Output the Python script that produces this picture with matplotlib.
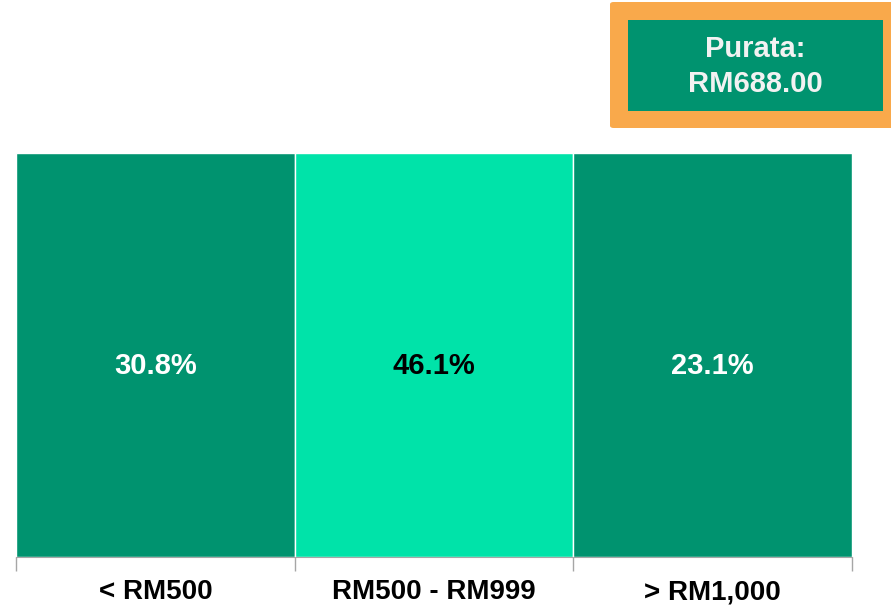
import matplotlib
matplotlib.use('Agg')
import matplotlib.pyplot as plt
from matplotlib.patches import FancyBboxPatch, Rectangle

categories = ['< RM500', 'RM500 - RM999', '> RM1,000']
shares = [30.8, 46.1, 23.1]
bar_height = [100, 100, 100]
colors = ['#00936F', '#00E3A9', '#00936F']
label_colors = ['white', 'black', 'white']
average_text = 'Purata:\nRM688.00'

plt.rcParams['font.family'] = ['Liberation Sans', 'DejaVu Sans']

fig = plt.figure(figsize=(8.91, 6.05), dpi=100)
ax = fig.add_axes([16/891, 48/605, 836/891, 404/605])

x = list(range(len(categories)))
ax.bar(x, bar_height, width=1.0, color=colors, edgecolor='white', linewidth=1)
for xi, s, c in zip(x, shares, label_colors):
    ax.text(xi, 47.4, f'{s:.1f}%', ha='center', va='center', fontsize=21,
            fontweight='bold', color=c)

ax.set_xlim(-0.5, len(categories) - 0.5)
ax.set_ylim(0, 100)
for sp in ['top', 'left', 'right']:
    ax.spines[sp].set_visible(False)
ax.spines['bottom'].set_color('#a6a6a6')
ax.set_yticks([])
ax.set_xticks(x)
ax.set_xticklabels(categories, fontsize=20, fontweight='bold')
ax.tick_params(axis='x', which='major', length=0, pad=16)
ax.set_xticks([i - 0.5 for i in range(len(categories) + 1)], minor=True)
ax.tick_params(axis='x', which='minor', length=10, color='#a6a6a6', width=1)

# average box
fig.patches.append(FancyBboxPatch((610/891, 477/605), 290/891, 126/605,
                                  boxstyle='round,pad=0,rounding_size=0.004',
                                  transform=fig.transFigure, facecolor='#F9A94B',
                                  edgecolor='none'))
fig.patches.append(Rectangle((628/891, 494/605), 255/891, 91/605,
                             transform=fig.transFigure, facecolor='#00936F',
                             edgecolor='none'))
fig.text(755/891, 538.5/605, average_text, ha='center', va='center', fontsize=21,
         fontweight='bold', color='#F2F2F2', linespacing=1.35)

fig.savefig('out.png', dpi=100)
